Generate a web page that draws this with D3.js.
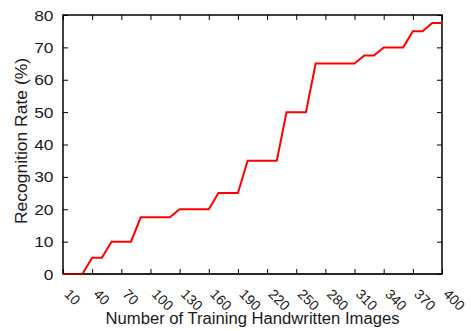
<!DOCTYPE html>
<html>
<head>
<meta charset="utf-8">
<script src="https://cdn.jsdelivr.net/npm/d3@7"></script>
<style>
html,body{margin:0;padding:0;background:#fff;}
svg{display:block;}
text{font-family:"Liberation Sans",Arial,Helvetica,sans-serif;fill:#1a1a1a;}
</style>
</head>
<body>
<svg id="chart" width="471" height="331"></svg>
<script>
const xValues = [10,20,30,40,50,60,70,80,90,100,110,120,130,140,150,160,170,180,190,200,210,220,230,240,250,260,270,280,290,300,310,320,330,340,350,360,370,380,390,400];
const recognitionRate = [0,0,0,5,5,10,10,10,17.5,17.5,17.5,17.5,20,20,20,20,25,25,25,35,35,35,35,50,50,50,65,65,65,65,65,67.5,67.5,70,70,70,75,75,77.5,77.5];
const xTicks = [10,40,70,100,130,160,190,220,250,280,310,340,370,400];
const yTicks = [0,10,20,30,40,50,60,70,80];
const xLabel = "Number of Training Handwritten Images";
const yLabel = "Recognition Rate (%)";

const svg = d3.select("#chart");
const L = 63, R = 442, T = 15, B = 274;
const x = d3.scaleLinear().domain([10,400]).range([L,R]);
const y = d3.scaleLinear().domain([0,80]).range([B,T]);

const data = xValues.map((v,i)=>({x:v,y:recognitionRate[i]}));

// ticks (inward on all four sides)
const yAxisL = svg.append("g").attr("transform",`translate(${L},0)`)
  .call(d3.axisLeft(y).tickValues(yTicks).tickSize(-5).tickFormat("").tickSizeOuter(0));
const yAxisR = svg.append("g").attr("transform",`translate(${R},0)`)
  .call(d3.axisRight(y).tickValues(yTicks).tickSize(-5).tickFormat("").tickSizeOuter(0));
const xAxisB = svg.append("g").attr("transform",`translate(0,${B})`)
  .call(d3.axisBottom(x).tickValues(xTicks).tickSize(-5).tickFormat("").tickSizeOuter(0));
const xAxisT = svg.append("g").attr("transform",`translate(0,${T})`)
  .call(d3.axisTop(x).tickValues(xTicks).tickSize(-5).tickFormat("").tickSizeOuter(0));
[yAxisL,yAxisR,xAxisB,xAxisT].forEach(g=>{
  g.select(".domain").remove();
  g.selectAll(".tick line").attr("stroke","#000").attr("stroke-width",1);
});

// frame
svg.append("rect").attr("x",L).attr("y",T).attr("width",R-L).attr("height",B-T)
  .attr("fill","none").attr("stroke","#000").attr("stroke-width",1.5);

// line
svg.append("path")
  .datum(data)
  .attr("fill","none")
  .attr("stroke","#ff0000")
  .attr("stroke-width",2)
  .attr("stroke-linejoin","miter")
  .attr("d", d3.line().x(d=>x(d.x)).y(d=>y(d.y)));

// bottom border blended over line
svg.append("line").attr("x1",L).attr("x2",R).attr("y1",B).attr("y2",B)
  .attr("stroke","#000").attr("stroke-opacity",0.5).attr("stroke-width",1.5);

// y tick labels
svg.append("g").selectAll("text").data(yTicks).join("text")
  .attr("transform",d=>`translate(53.5,${y(d)}) scale(1.12,1)`)
  .attr("text-anchor","end").attr("dy","0.36em")
  .attr("font-size",15.5)
  .text(d=>d);

// rotated x tick labels
svg.append("g").selectAll("text").data(xTicks).join("text")
  .attr("transform",d=>`translate(${x(d)+0.5},295) rotate(45)`)
  .attr("text-anchor","start")
  .attr("font-size",14)
  .text(d=>d);

// axis titles
svg.append("text").attr("transform",`translate(${(L+R)/2},324) scale(1.04,1)`).attr("text-anchor","middle")
  .attr("font-size",16).text(xLabel);
svg.append("text").attr("transform",`translate(27,141) rotate(-90) scale(1.06,1)`).attr("text-anchor","middle")
  .attr("font-size",16.5).text(yLabel);
</script>
</body>
</html>
